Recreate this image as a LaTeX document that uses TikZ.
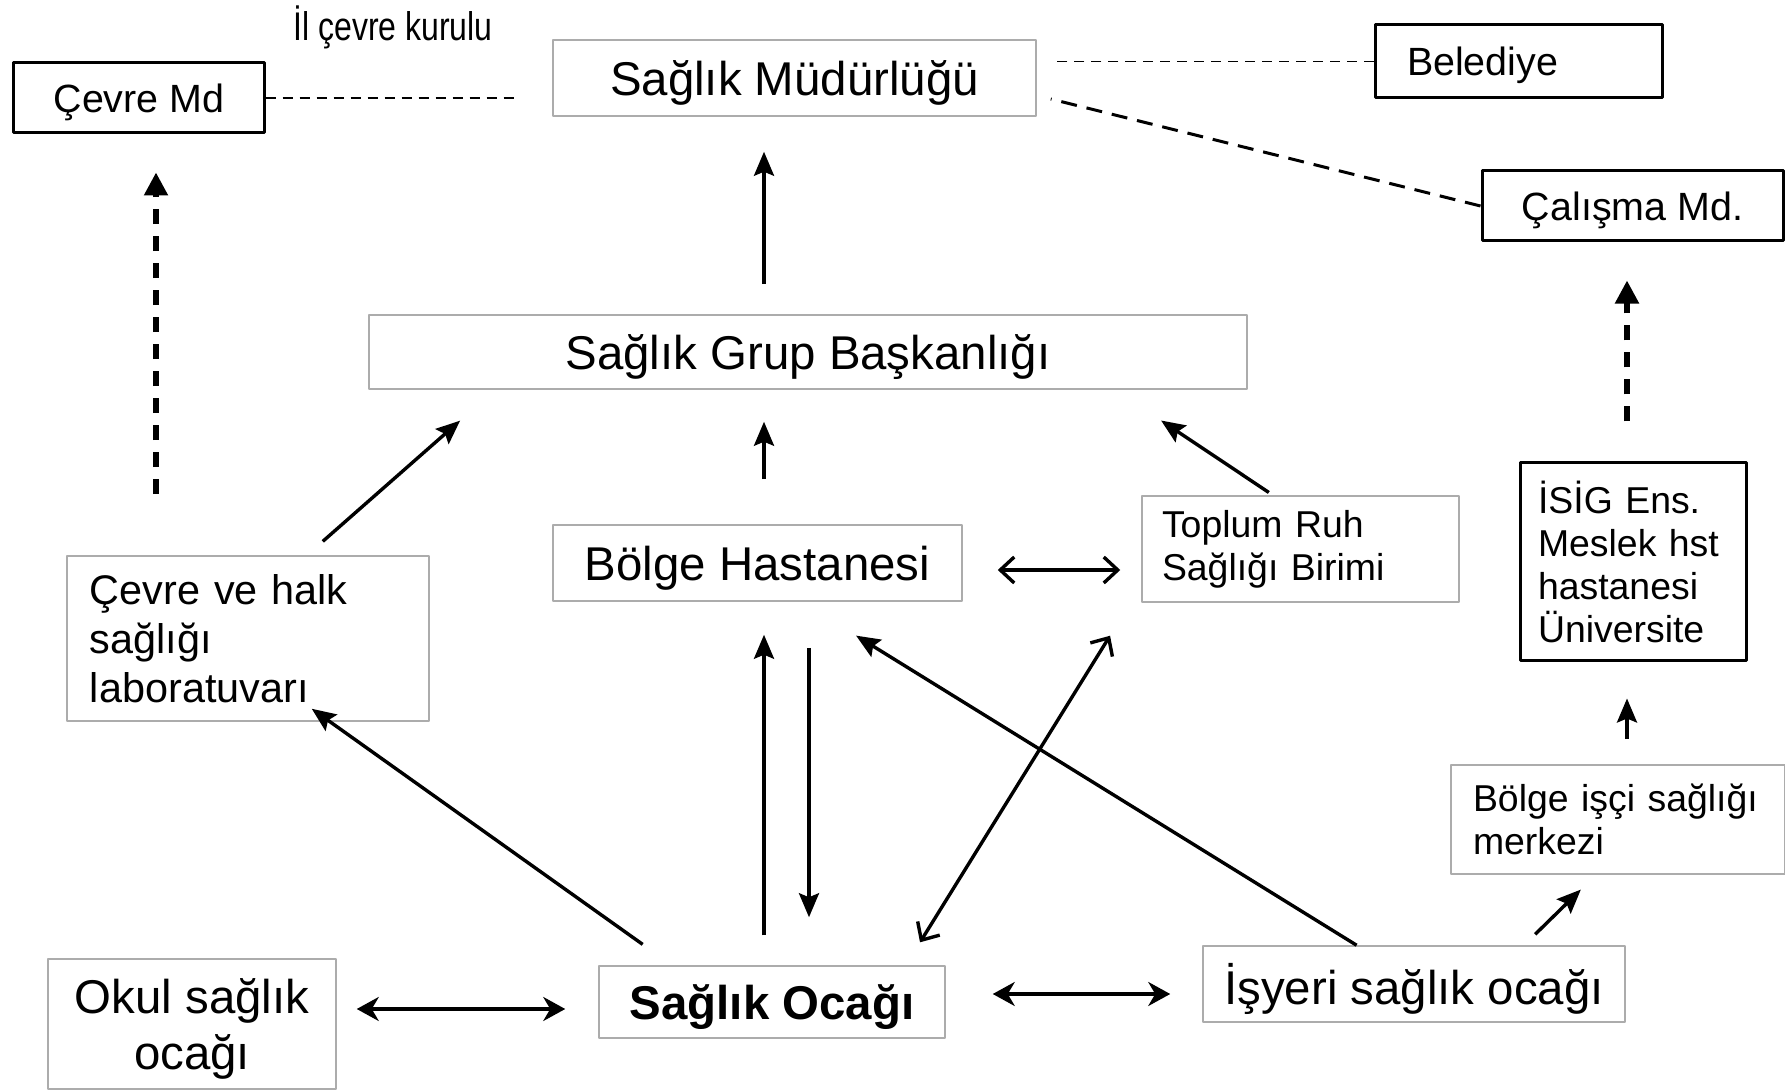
\documentclass[tikz,border=0pt]{standalone}
\usepackage{fontspec}
\setmainfont{Liberation Sans}
\usepackage{graphicx}
\usetikzlibrary{arrows.meta}
\begin{document}
\begin{tikzpicture}[x=0.5bp,y=0.5bp,line join=bevel,
  thinbox/.style={draw=gray!65,line width=0.75bp,inner sep=0pt},
  thickbox/.style={draw=black,line width=1.5bp,inner sep=0pt},
  big/.style={font=\fontsize{23.7bp}{28bp}\selectfont,text depth=0pt},
  mid/.style={font=\fontsize{19.7bp}{23bp}\selectfont,text depth=0pt},
  small/.style={font=\fontsize{18.7bp}{21.5bp}\selectfont},
  arr/.style={line width=1.7bp,-{Stealth[length=12bp,width=10bp,inset=2bp]}},
  dblarr/.style={line width=1.7bp,{Stealth[length=11bp,width=12bp,inset=3.5bp]}-{Stealth[length=11bp,width=12bp,inset=3.5bp]}},
  openarr/.style={line width=1.7bp,{Straight Barb[length=7bp,width=13bp,line width=1.7bp]}-{Straight Barb[length=7bp,width=13bp,line width=1.7bp]}},
  dasharr/.style={line width=2.6bp,dash pattern=on 7.5bp off 6bp,-{Triangle[length=11.5bp,width=11.5bp]}},
  dashline/.style={line width=0.9bp,dash pattern=on 5bp off 3.5bp}]
%%
\useasboundingbox (0,0) rectangle (1785,1091);
\node (1) at (139,993) [thickbox,mid,minimum width=125bp,minimum height=35bp] {Çevre Md};
  \node (2) at (393,1064) [font=\fontsize{20bp}{24bp}\selectfont] {\scalebox{0.8}[1]{İl çevre kurulu}};
  \node (3) at (794.5,1013) [thinbox,big,minimum width=241.5bp,minimum height=38bp] {Sağlık Müdürlüğü};
  \node (4) at (1518.5,1029.5) [thickbox,mid,inner xsep=16bp,text width=111.5bp,align=left,minimum height=36.5bp] {Belediye};
  \node (5) at (1632.5,885) [thickbox,mid,minimum width=150.5bp,minimum height=35bp] {Çalışma Md.};
  \node (6) at (808,739) [thinbox,big,minimum width=439bp,minimum height=37bp] {Sağlık Grup Başkanlığı};
  \node (7) at (248,452.5) [thinbox,font=\fontsize{20.7bp}{24.5bp}\selectfont,inner xsep=11.5bp,text width=158bp,align=left,minimum height=82.5bp] {Çevre ve halk\\sağlığı\\laboratuvarı};
  \node (8) at (757.5,528) [thinbox,big,minimum width=204.5bp,minimum height=38bp] {Bölge Hastanesi};
  \node (9) at (1300.5,542) [thinbox,small,inner xsep=10bp,text width=138.5bp,align=left,minimum height=53bp] {Toplum Ruh\\Sağlığı Birimi};
  \node (10) at (1633,529.5) [thickbox,small,inner xsep=9bp,text width=95bp,align=left,minimum height=98.5bp] {İSİG Ens.\\Meslek hst\\hastanesi\\Üniversite};
  \node (11) at (1618,271.5) [thinbox,small,inner xsep=11bp,text width=145bp,align=left,minimum height=54.5bp] {Bölge işçi sağlığı\\merkezi};
  \node (12) at (192,67) [thinbox,big,minimum width=144bp,minimum height=65bp,align=center] {Okul sağlık\\ocağı};
  \node (13) at (772,89) [thinbox,big,minimum width=173bp,minimum height=36bp] {\bfseries Sağlık Ocağı};
  \node (14) at (1414,107) [thinbox,big,minimum width=211bp,minimum height=38bp] {İşyeri sağlık ocağı};
  \draw [dashline,shorten >=17.5bp] (1.east) -- (1.east -| 3.west);
  \draw [dashline] (4.west) -- ([xshift=7bp]3.east |- 4.west);
  \draw [dashline,line width=1.5bp,dash pattern=on 8bp off 5bp] (5.west) -- ([xshift=7bp,yshift=-10.5bp]3.east);
  \draw [dasharr,shorten <=30.5bp,shorten >=19bp] ([xshift=8.5bp]1.south |- 7.north) -- ([xshift=8.5bp]1.south);
  \draw [arr,shorten <=15bp,shorten >=17.5bp] ([xshift=-22bp]6.north) -- ([xshift=-22bp]6.north |- 3.south);
  \draw [arr,shorten <=10.5bp,shorten >=23.4bp] ([xshift=29.5bp]7.north) -- ([xshift=63.5bp]6.south west);
  \draw [arr,shorten <=22.5bp,shorten >=16bp] ([xshift=3.25bp]8.north) -- ([xshift=3.25bp]8.north |- 6.south);
  \draw [arr,shorten <=2.5bp,shorten >=27.7bp] ([xshift=-13.75bp]9.north) -- ([xshift=153.5bp]6.south);
  \draw [openarr,shorten <=17.5bp,shorten >=10.5bp] ([yshift=-3.5bp]8.east) -- ([yshift=-3.5bp]8.east -| 9.west);
  \draw [dasharr,shorten <=20bp,shorten >=19bp] ([xshift=-3bp]10.north) -- ([xshift=-3bp]10.north |- 5.south);
  \draw [arr,shorten <=12.5bp,shorten >=18.5bp] ([xshift=-3bp]10.south |- 11.north) -- ([xshift=-3bp]10.south);
  \draw [arr,shorten <=7.8bp,shorten >=10.6bp] ([xshift=55bp]14.north) -- ([xshift=-11bp]11.south);
  \draw [arr,shorten <=18bp,shorten >=-11.2bp] ([xshift=-50bp]13.north) -- ([xshift=41bp]7.south);
  \draw [arr,shorten <=15bp,shorten >=16.5bp] ([xshift=-4bp]13.north) -- ([xshift=-4bp]13.north |- 8.south);
  \draw [arr,shorten <=23bp,shorten >=24bp] ([xshift=18.5bp]13.north |- 8.south) -- ([xshift=18.5bp]13.north);
  \draw [openarr,shorten <=13.5bp,shorten >=19.4bp] ([xshift=66.9bp]13.north) -- ([xshift=-85bp]9.south);
  \draw [arr,shorten >=32.2bp] ([xshift=-28.7bp]14.north) -- ([xshift=21.9bp]8.south);
  \draw [dblarr,shorten <=10bp,shorten >=16.5bp] ([yshift=-3.5bp]13.west -| 12.east) -- ([yshift=-3.5bp]13.west);
  \draw [dblarr,shorten <=23.5bp,shorten >=16bp] ([yshift=4bp]13.east) -- ([yshift=4bp]13.east -| 14.west);
%
\end{tikzpicture}
\end{document}
